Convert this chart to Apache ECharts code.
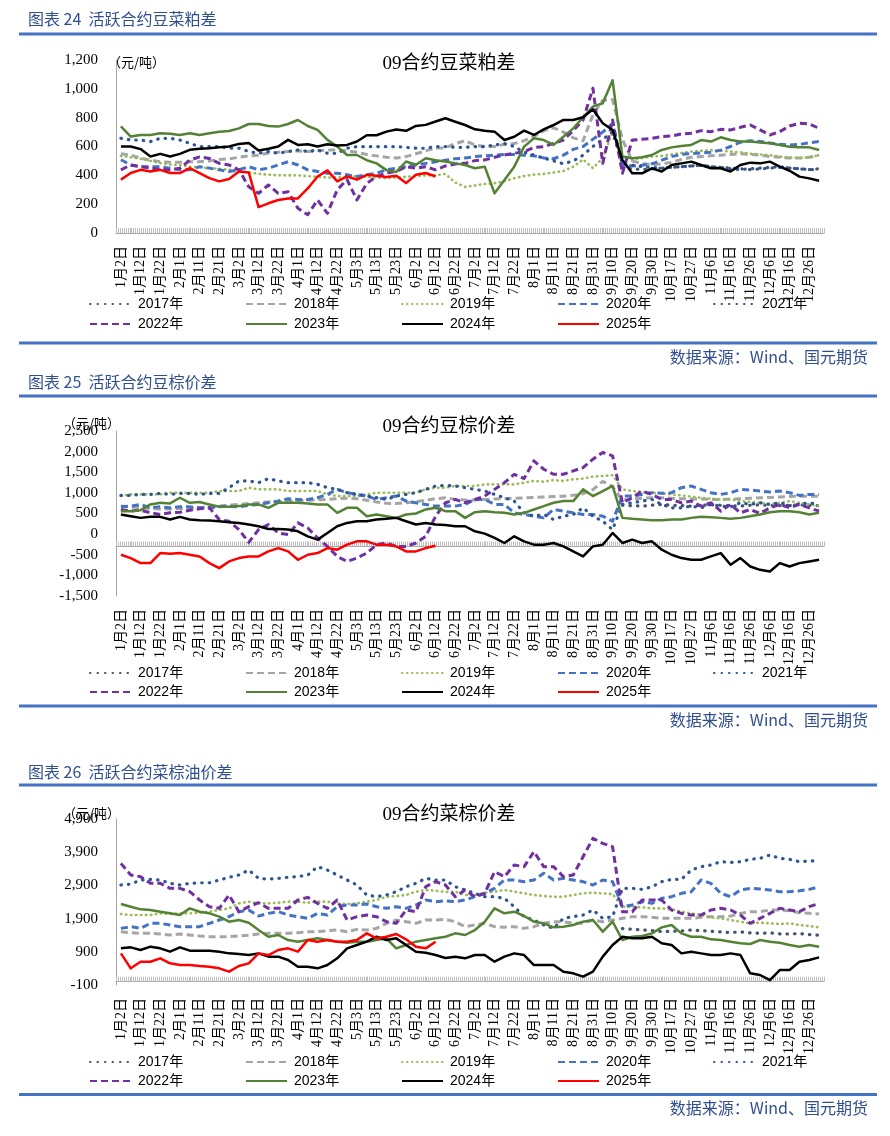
<!DOCTYPE html>
<html><head><meta charset="utf-8">
<script src="https://cdn.jsdelivr.net/npm/echarts@6/dist/echarts.min.js"></script>
<style>html,body{margin:0;padding:0;background:#fff}#c{width:890px;height:1136px}</style>
</head><body><div id="c"></div>
<script>
// ---------- categories (every 5 trading days; every other one is labelled) ----------
const categories = ['1月2日','1月7日','1月12日','1月17日','1月22日','1月27日','2月1日','2月6日','2月11日','2月16日',
'2月21日','2月26日','3月2日','3月7日','3月12日','3月17日','3月22日','3月27日','4月1日','4月7日',
'4月12日','4月17日','4月22日','4月27日','5月3日','5月8日','5月13日','5月18日','5月23日','5月28日',
'6月2日','6月7日','6月12日','6月17日','6月22日','6月27日','7月2日','7月7日','7月12日','7月17日',
'7月22日','7月27日','8月1日','8月6日','8月11日','8月16日','8月21日','8月26日','8月31日','9月5日',
'9月10日','9月15日','9月20日','9月25日','9月30日','10月12日','10月17日','10月22日','10月27日','11月1日',
'11月6日','11月11日','11月16日','11月21日','11月26日','12月1日','12月6日','12月11日','12月16日','12月21日',
'12月26日','12月31日'];
const years = ['2017年','2018年','2019年','2020年','2021年','2022年','2023年','2024年','2025年'];
const q4Start = 51; // 2017 series only visible from 9月15日 on

// ---------- 豆菜粕差 ----------
const meal2017Q4 = [450,445,440,445,450,455,460,465,470,460,455,450,445,440,445,450,455,450,445,440,445];
const meal2018 = [550,540,520,505,495,490,490,495,495,500,510,515,525,535,540,555,560,565,570,565,570,575,575,570,560,545,535,525,520,530,550,570,590,590,620,640,610,600,600,615,620,640,670,710,730,700,660,640,820,920,925,650,500,480,475,480,490,510,525,530,535,540,545,550,545,540,530,525,520,520,525,540];
const meal2019 = [535,525,515,500,485,475,470,460,455,450,445,440,430,420,410,405,400,400,400,395,390,385,385,390,395,390,385,380,385,390,395,400,400,410,350,320,330,340,345,360,380,395,405,410,420,430,460,510,450,520,700,520,510,520,530,535,545,555,565,570,575,570,565,560,550,545,540,530,525,520,525,540];
const meal2020 = [508,472,460,460,460,450,438,438,460,450,438,427,438,460,438,450,472,494,472,438,427,415,415,404,392,404,415,438,450,460,472,483,494,505,515,520,530,535,540,545,545,540,535,520,515,540,580,600,650,700,760,470,465,470,480,505,530,545,550,555,560,575,600,630,640,635,625,615,610,615,625,635];
const meal2021 = [657,645,645,634,657,657,645,622,599,599,599,588,588,565,553,565,553,565,576,565,576,553,553,588,599,599,599,599,599,594,588,588,599,599,594,594,599,599,610,620,600,560,540,520,500,480,500,540,600,650,700,480,470,460,455,450,455,460,465,470,460,455,445,440,445,450,455,460,450,445,440,440];
const meal2022 = [438,472,460,450,438,438,450,505,528,517,483,472,438,321,275,333,275,286,171,127,229,136,300,370,229,344,392,416,427,460,450,460,438,465,479,483,502,507,525,541,553,564,594,599,622,645,710,784,1004,483,784,414,645,650,657,668,673,687,692,710,703,719,715,733,749,715,680,703,742,761,756,726];
const meal2023 = [740,669,680,680,692,688,680,692,680,692,703,708,726,756,756,742,738,756,784,742,715,646,599,541,541,505,483,436,424,496,473,519,505,496,483,472,449,460,275,368,460,599,657,645,611,668,726,803,877,900,1060,530,518,525,541,576,594,604,611,645,634,664,645,634,634,627,622,611,599,594,594,576];
const meal2024 = [600,600,582,531,549,531,549,577,584,588,595,600,618,625,572,584,600,646,611,616,600,616,607,611,635,678,678,703,718,709,743,750,773,796,772,749,719,710,703,645,668,710,680,719,749,784,784,803,858,761,715,506,414,414,449,426,472,483,495,472,449,449,426,472,488,483,495,460,432,391,379,363];
const meal2025 = [370,416,438,427,438,416,416,450,416,381,358,374,427,420,180,206,229,240,240,309,392,434,358,392,370,404,397,388,397,346,404,416,392];

// ---------- 豆棕价差 ----------
const sp2017Q4 = [700,690,680,700,720,700,690,680,700,710,700,690,680,700,710,700,690,700,710,700,690];
const sp2018 = [680,660,640,620,610,610,620,630,640,660,680,700,720,740,760,780,790,800,810,820,830,840,860,870,860,820,780,750,740,760,790,820,860,880,840,830,830,840,850,860,870,880,890,900,910,920,940,980,1080,1280,1150,820,850,870,880,880,870,860,850,850,840,840,850,860,870,880,890,900,910,920,920,920];
const sp2019 = [923,963,963,963,963,1000,1000,1000,1000,1000,1045,1045,1045,1126,1085,1085,1085,1045,1045,1045,1045,963,923,923,923,963,1004,1004,1004,1004,1004,1085,1126,1126,1167,1167,1167,1207,1207,1207,1207,1248,1289,1270,1310,1289,1329,1346,1394,1410,1427,1085,1045,1020,1004,990,963,940,906,882,860,841,841,801,780,760,720,760,801,760,720,679];
const sp2020 = [663,679,720,638,663,638,663,663,638,638,663,679,663,700,720,760,801,858,841,841,882,963,1085,1004,963,923,841,882,923,801,760,720,679,680,679,720,841,841,720,720,516,476,435,394,598,557,516,476,476,435,313,923,923,963,1004,990,1004,1126,1167,1085,1004,963,1004,1085,1070,1045,1020,1045,1004,939,963,963];
const sp2021 = [939,939,963,963,987,963,987,987,963,987,987,1126,1289,1289,1248,1346,1289,1248,1248,1248,1207,1126,1085,1004,963,923,882,841,923,963,1004,1085,1167,1180,1167,1126,1085,1045,963,882,801,516,435,476,354,435,476,638,435,313,110,720,760,801,841,720,638,638,679,638,720,679,660,760,720,760,720,760,690,720,760,720];
const sp2022 = [598,557,581,516,476,516,532,581,614,638,354,313,110,-200,110,232,28,-12,272,150,-93,-297,-541,-663,-581,-459,-256,-215,-297,-297,-215,-53,435,760,841,760,841,923,1085,1248,1451,1346,1776,1573,1451,1451,1532,1614,1817,1980,1898,760,882,1045,963,841,841,760,801,679,760,557,720,516,598,500,638,720,638,720,638,557];
const sp2023 = [557,557,581,720,760,744,882,760,777,720,663,663,679,720,720,638,760,760,760,744,720,720,516,638,638,435,476,435,394,476,500,598,638,557,557,394,532,557,532,516,476,516,598,679,760,801,801,1085,923,1045,1167,394,370,354,337,337,354,354,394,419,410,394,370,394,435,476,532,557,557,532,476,516];
const sp2024 = [476,435,394,419,419,354,419,354,337,329,313,289,272,232,191,126,126,110,69,-53,-134,28,191,272,313,313,354,370,394,313,232,272,232,220,191,191,69,12,-93,-215,-53,-175,-256,-256,-215,-297,-419,-541,-297,-256,28,-215,-134,-215,-175,-378,-500,-581,-622,-622,-541,-460,-744,-581,-785,-866,-907,-703,-785,-703,-663,-622];
const sp2025 = [-500,-581,-703,-703,-459,-476,-459,-500,-541,-703,-825,-662,-581,-541,-541,-419,-338,-419,-622,-500,-459,-338,-378,-256,-175,-175,-256,-256,-297,-419,-419,-338,-281];

// ---------- 菜棕价差 ----------
const rp2017Q4 = [1600,1580,1560,1540,1506,1520,1530,1556,1540,1520,1500,1480,1500,1470,1456,1470,1440,1436,1450,1420,1400];
const rp2018 = [1506,1476,1456,1456,1436,1406,1436,1406,1376,1355,1355,1355,1376,1396,1436,1456,1456,1456,1476,1506,1506,1536,1556,1506,1576,1556,1606,1757,1857,1807,1757,1857,1857,1880,1807,1657,1707,1757,1657,1640,1657,1606,1657,1757,1807,1807,1757,1757,1857,1807,1857,1908,1958,1958,1938,1908,1908,1908,1908,1938,1958,1958,1978,2058,2108,2108,2159,2159,2139,2078,2058,2038];
const rp2019 = [2038,2008,2008,2008,2058,2038,2058,2058,2078,2108,2159,2209,2359,2410,2359,2359,2379,2410,2410,2379,2410,2410,2359,2339,2359,2410,2460,2560,2580,2610,2711,2761,2741,2700,2711,2610,2610,2681,2711,2761,2711,2661,2610,2580,2560,2560,2610,2661,2681,2661,2640,2259,2259,2239,2209,2209,2179,2108,2058,2008,1938,1908,1857,1807,1757,1777,1757,1737,1757,1707,1677,1636];
const rp2020 = [1606,1657,1606,1757,1757,1707,1657,1657,1657,1757,1857,1958,2108,2159,1978,2058,2108,2008,1958,1908,2058,2008,2259,2309,2309,2339,2259,2209,2259,2209,2309,2460,2410,2435,2410,2460,2560,2661,2811,3062,3062,3012,3062,3263,3062,3112,3062,3012,2911,3062,3012,2259,2309,2410,2360,2510,2560,2661,2711,3062,2962,2661,2560,2761,2811,2790,2761,2711,2711,2740,2780,2861];
const rp2021 = [2912,2940,3062,3080,3062,2962,2912,2962,2980,2980,3062,3143,3213,3363,3112,3090,3112,3143,3163,3213,3464,3363,3213,3062,2912,2610,2560,2610,2711,2861,2962,3112,3062,3062,2861,2761,2661,2560,2560,2510,2259,1958,1857,1707,1606,1908,1958,2008,2159,1908,1958,2811,2811,2780,2861,3012,3082,3082,3363,3464,3514,3614,3590,3614,3685,3715,3815,3715,3685,3614,3634,3640];
const rp2022 = [3564,3213,3163,2962,2962,2811,2811,2711,2460,2259,2209,2610,2108,2259,2379,2209,2209,2209,2460,2540,2359,2209,2460,1857,1958,2008,1958,1807,1757,2159,2108,2861,3012,2912,2560,2761,2560,2661,3313,3163,3514,3464,3916,3464,3464,3163,3213,3765,4317,4167,4066,2108,2108,2460,2460,2460,2159,2058,2008,2008,2159,2209,2159,2008,1757,1908,2058,2209,2159,2109,2259,2359];
const rp2023 = [2339,2259,2179,2159,2108,2058,2008,2209,2108,2058,1958,1807,1857,1777,1556,1355,1406,1255,1205,1255,1305,1255,1205,1175,1205,1205,1255,1305,1004,1104,1205,1255,1305,1355,1456,1406,1556,1807,2209,2058,2108,1978,1807,1757,1636,1656,1707,1807,1857,1506,1807,1255,1355,1375,1456,1636,1707,1456,1355,1355,1275,1255,1205,1155,1135,1255,1205,1175,1104,1054,1104,1054];
const rp2024 = [1004,1034,954,1054,1004,904,1034,934,934,934,904,853,833,803,853,753,753,653,452,452,402,502,703,1004,1104,1205,1355,1255,1305,1104,904,873,803,713,753,703,803,803,602,753,853,803,502,502,502,301,251,151,301,753,1104,1355,1305,1305,1355,1155,1104,853,904,853,803,803,853,803,251,201,50,351,351,602,653,733];
const rp2025 = [853,402,602,602,703,552,502,502,472,452,402,301,472,552,853,803,954,1004,904,1255,1205,1255,1205,1205,1255,1456,1305,1355,1436,1275,1054,1004,1205];

// ---------- texts ----------
const sectionTitles = ['图表 24  活跃合约豆菜粕差','图表 25  活跃合约豆棕价差','图表 26  活跃合约菜棕油价差'];
const chartTitles = ['09合约豆菜粕差','09合约豆棕价差','09合约菜棕价差'];
const unitText = '（元/吨）';
const sourceText = '数据来源：Wind、国元期货';

// ---------- styles / layout ----------
const SERIF = '"Liberation Serif","Noto Sans CJK SC"';
const STYLE = {
  '2017年': {color:'#44546A', width:3.2, type:[0.5,7], cap:'round'},
  '2018年': {color:'#A5A5A5', width:3, type:[7,4]},
  '2019年': {color:'#9BBB59', width:2.6, type:[0.5,4.5], cap:'round'},
  '2020年': {color:'#4472C4', width:3, type:[7,4]},
  '2021年': {color:'#2F5597', width:3.2, type:[0.5,7], cap:'round'},
  '2022年': {color:'#7030A0', width:3, type:[7,4]},
  '2023年': {color:'#548235', width:2.5, type:'solid'},
  '2024年': {color:'#000000', width:2.5, type:'solid'},
  '2025年': {color:'#FF0000', width:2.5, type:'solid'}
};
function q4(arr){ return categories.map((c,i)=> (i>=q4Start && i-q4Start<arr.length) ? arr[i-q4Start] : null); }

const PANELS = [
  {series:[q4(meal2017Q4),meal2018,meal2019,meal2020,meal2021,meal2022,meal2023,meal2024,meal2025],
   top:60, height:173, ymin:0, ymax:1200, yint:200, cross:null, sectionY:19, ruleTop:32.5, ruleBottom:341.5, sourceY:357, titleY:64, unitX:108, unitY:62, legendY:[305,325]},
  {series:[q4(sp2017Q4),sp2018,sp2019,sp2020,sp2021,sp2022,sp2023,sp2024,sp2025],
   top:431, height:165, ymin:-1500, ymax:2500, yint:500, cross:-300, sectionY:382, ruleTop:394.5, ruleBottom:704.5, sourceY:720, titleY:427, unitX:63, unitY:423, legendY:[674,693]},
  {series:[q4(rp2017Q4),rp2018,rp2019,rp2020,rp2021,rp2022,rp2023,rp2024,rp2025],
   top:819, height:166, ymin:-100, ymax:4900, yint:1000, cross:null, sectionY:772, ruleTop:783.5, ruleBottom:1093, sourceY:1108, titleY:815, unitX:63, unitY:813, legendY:[1063,1082]}
];
const LEFT = 116, WIDTH = 708;
const LEGEND_COLS = [89,245,401,557,713];
const BLUE_TEXT = '#2F4F8F';

const grids=[], xAxes=[], yAxes=[], series=[], legends=[], graphics=[];
PANELS.forEach((p, pi) => {
  grids.push({left:LEFT, top:p.top, width:WIDTH, height:p.height});
  const catIdx = xAxes.length;
  xAxes.push({type:'category', gridIndex:pi, data:categories, boundaryGap:true, position:'bottom',
    axisLine:{show:false, onZero:false}, axisTick:{show:false}, splitLine:{show:false},
    axisLabel:{interval:1, rotate:90, margin:13, fontSize:14, fontFamily:SERIF, color:'#000'}});
  const yIdx = yAxes.length;
  yAxes.push({type:'value', gridIndex:pi, min:p.ymin, max:p.ymax, interval:p.yint,
    axisLine:{show:true, onZero:false, lineStyle:{color:'#A6A6A6', width:1}}, axisTick:{show:false}, splitLine:{show:false},
    axisLabel:{margin:18, fontSize:15, fontFamily:SERIF, color:'#000'}});
  let crossIdx = yIdx;
  if (p.cross !== null) {
    crossIdx = yAxes.length;
    yAxes.push({type:'value', gridIndex:pi, show:false, min:p.ymin - p.cross, max:p.ymax - p.cross});
  }
  xAxes.push({type:'value', gridIndex:pi, min:0, max:categories.length, interval:1, position:'bottom',
    axisLine:{show:true, onZero:true, onZeroAxisIndex:crossIdx, lineStyle:{color:'#A6A6A6'}},
    axisTick:{show:true, inside:true, length:5, lineStyle:{color:'#BDBDBD'}},
    minorTick:{show:true, splitNumber:5, length:5, lineStyle:{color:'#BDBDBD'}},
    axisLabel:{show:false}, splitLine:{show:false}, minorSplitLine:{show:false}});
  years.forEach((name, k) => {
    const st = STYLE[name];
    series.push({type:'line', name, xAxisIndex:catIdx, yAxisIndex:yIdx, data:p.series[k], symbol:'none',
      showSymbol:false, connectNulls:false, color:st.color,
      lineStyle:{color:st.color, width:st.width, type:st.type, cap:st.cap || 'butt', join:'round'},
      z:2+k, animation:false});
    const row = k < 5 ? 0 : 1, col = k < 5 ? k : k - 5;
    legends.push({show:true, left:LEGEND_COLS[col], top:p.legendY[row]-8, padding:0, itemGap:0,
      itemWidth:41, itemHeight:14, data:[name], selectedMode:false, itemStyle:{opacity:0},
      textStyle:{fontFamily:'"Liberation Sans","Noto Sans CJK SC"', fontSize:14, color:'#000', padding:[0,0,0,2]}});
  });
  graphics.push(
    {type:'text', x:28, y:p.sectionY, style:{text:sectionTitles[pi], font:'16px "Noto Sans CJK SC"', fill:BLUE_TEXT, textAlign:'left', textVerticalAlign:'middle'}},
    {type:'rect', shape:{x:19, y:p.ruleTop, width:858, height:3}, style:{fill:'#4472C4'}},
    {type:'rect', shape:{x:19, y:p.ruleBottom, width:858, height:3}, style:{fill:'#4472C4'}},
    {type:'text', x:868, y:p.sourceY, style:{text:sourceText, font:'16px "Noto Sans CJK SC"', fill:BLUE_TEXT, textAlign:'right', textVerticalAlign:'middle'}},
    {type:'text', x:449, y:p.titleY, style:{text:chartTitles[pi], font:'19px "Liberation Serif","Noto Sans CJK SC"', fill:'#000', textAlign:'center', textVerticalAlign:'middle'}},
    {type:'text', x:p.unitX, y:p.unitY, style:{text:unitText, font:'13px "Noto Sans CJK SC"', fill:'#000', textAlign:'left', textVerticalAlign:'middle'}}
  );
});

const chart = echarts.init(document.getElementById('c'), null, {renderer:'canvas'});
chart.setOption({
  animation:false, backgroundColor:'#fff',
  grid:grids, xAxis:xAxes, yAxis:yAxes, series, legend:legends,
  graphic:{elements:graphics}
});
</script></body></html>
